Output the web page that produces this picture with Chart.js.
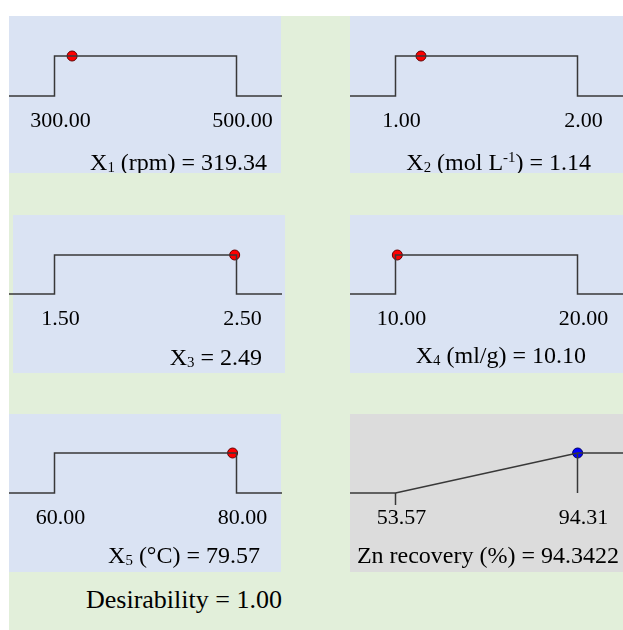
<!DOCTYPE html>
<html>
<head>
<meta charset="utf-8">
<script src="https://cdn.jsdelivr.net/npm/chart.js@4/dist/chart.umd.min.js"></script>
<style>
  html, body { margin: 0; padding: 0; background: #fff; }
  #page { position: relative; width: 623px; height: 630px; overflow: hidden; }
  .bg { position: absolute; }
  canvas { position: absolute; }
  #desir {
    position: absolute; left: 86px; top: 587px; line-height: 26px;
    font-family: "Liberation Serif", serif; font-size: 26px; color: #000; white-space: nowrap;
  }
</style>
</head>
<body>
<div id="page">
  <div class="bg" style="left:9px;top:16px;width:614px;height:614px;background:#e2efda"></div>
  <div class="bg" style="left:9px;top:16px;width:272px;height:157px;background:#dae3f3"></div>
  <div class="bg" style="left:350px;top:16px;width:273px;height:157px;background:#dae3f3"></div>
  <div class="bg" style="left:13px;top:215px;width:272px;height:158px;background:#dae3f3"></div>
  <div class="bg" style="left:350px;top:215px;width:273px;height:158px;background:#dae3f3"></div>
  <div class="bg" style="left:9px;top:414px;width:272px;height:158px;background:#dae3f3"></div>
  <div class="bg" style="left:350px;top:414px;width:273px;height:158px;background:#dcdcdc"></div>
  <div id="desir"></div>
</div>
<script>
"use strict";
// values
const lowLimits = [300, 1, 1.5, 10, 60, 53.57];
const highLimits = [500, 2, 2.5, 20, 80, 94.31];
const optimumValues = [319.34, 1.14, 2.49, 10.10, 79.57, 94.3422];
const valueDecimals = [2, 2, 2, 2, 2, 4];
const tickLabels = [
  ["300.00", "500.00"],
  ["1.00", "2.00"],
  ["1.50", "2.50"],
  ["10.00", "20.00"],
  ["60.00", "80.00"],
  ["53.57", "94.31"],
];
const titleParts = [
  [["X"], ["1", "sub"], [" (rpm) = "]],
  [["X"], ["2", "sub"], [" (mol L"], ["-1", "sup"], [") = "]],
  [["X"], ["3", "sub"], [" = "]],
  [["X"], ["4", "sub"], [" (ml/g) = "]],
  [["X"], ["5", "sub"], [" (°C) = "]],
  [["Zn recovery (%) = "]],
];
const desirability = 1.00;

// layout of the six panels (page pixels)
const panels = [
  { left: 9,   top: 16,  height: 157, padTop: 40, axisH: 77, titleRight: 267, titleY: 162 },
  { left: 350, top: 16,  height: 157, padTop: 40, axisH: 77, titleRight: 591, titleY: 162 },
  { left: 9,   top: 215, height: 158, padTop: 40, axisH: 79, titleRight: 262, titleY: 357 },
  { left: 350, top: 215, height: 158, padTop: 40, axisH: 79, titleRight: 586, titleY: 355 },
  { left: 9,   top: 414, height: 158, padTop: 39, axisH: 79, titleRight: 260, titleY: 555 },
  { left: 350, top: 414, height: 158, padTop: 39, axisH: 79, titleRight: 619, titleY: 555 },
];
const chartWidth = 273;
const serif = '"Liberation Serif", "Times New Roman", serif';
const lineColor = "#383838";

// draws the panel caption with sub/superscripts
const richTitle = {
  id: "richTitle",
  afterDraw(chart, args, opts) {
    const ctx = chart.ctx;
    const size = opts.size;
    const pieces = opts.parts.map(([t, kind]) => ({ t, kind, f: kind ? size * 0.62 : size }));
    ctx.save();
    ctx.textBaseline = "alphabetic";
    ctx.fillStyle = "#000";
    let total = 0;
    pieces.forEach((p) => {
      ctx.font = `${p.f}px ${serif}`;
      p.w = ctx.measureText(p.t).width;
      total += p.w;
    });
    let x = opts.right - total;
    const base = opts.y + size * 0.34;
    pieces.forEach((p) => {
      ctx.font = `${p.f}px ${serif}`;
      const dy = p.kind === "sub" ? size * 0.08 : p.kind === "sup" ? -size * 0.36 : 0;
      ctx.fillText(p.t, x, base + dy);
      x += p.w;
    });
    ctx.restore();
  },
};

const page = document.getElementById("page");

panels.forEach((panel, i) => {
  const low = lowLimits[i];
  const high = highLimits[i];
  const span = high - low;
  const xMin = low - span * 0.25;
  const xMax = high + span * 0.25;
  const isResponse = i === 5;

  const canvas = document.createElement("canvas");
  canvas.width = chartWidth;
  canvas.height = panel.height;
  canvas.style.left = panel.left + "px";
  canvas.style.top = panel.top + "px";
  page.appendChild(canvas);

  const lineStyle = {
    borderColor: lineColor,
    borderWidth: 1.5,
    pointRadius: 0,
    tension: 0,
    fill: false,
    clip: false,
  };

  let datasets;
  if (!isResponse) {
    datasets = [
      {
        ...lineStyle,
        data: [
          { x: xMin, y: 0 }, { x: low, y: 0 }, { x: low, y: 1 },
          { x: high, y: 1 }, { x: high, y: 0 }, { x: xMax, y: 0 },
        ],
      },
    ];
  } else {
    datasets = [
      { ...lineStyle, data: [{ x: xMin, y: 0 }, { x: low, y: 0 }, { x: high, y: 1 }, { x: xMax, y: 1 }] },
      { ...lineStyle, data: [{ x: high, y: 1 }, { x: high, y: 0 }] },
      { ...lineStyle, data: [{ x: low, y: 0 }, { x: low, y: -0.3 }] },
    ];
  }
  datasets.push({
    data: [{ x: optimumValues[i], y: 1 }],
    showLine: false,
    pointRadius: 5,
    pointBorderWidth: 1,
    pointBackgroundColor: isResponse ? "#0000ff" : "#ff0000",
    pointBorderColor: isResponse ? "#000060" : "#600000",
    clip: false,
  });

  new Chart(canvas, {
    type: "line",
    data: { datasets },
    plugins: [richTitle],
    options: {
      responsive: false,
      animation: false,
      events: [],
      layout: { autoPadding: false, padding: { top: panel.padTop, left: 0, right: 0, bottom: 0 } },
      scales: {
        x: {
          type: "linear",
          min: xMin,
          max: xMax,
          grid: { display: false, drawTicks: false },
          border: { display: false },
          afterBuildTicks: (scale) => {
            scale.ticks = [{ value: low }, { value: high }];
          },
          afterFit: (scale) => {
            scale.height = panel.axisH;
          },
          ticks: {
            autoSkip: false,
            maxRotation: 0,
            padding: 12,
            labelOffset: 6,
            color: "#000",
            font: { family: serif, size: 22 },
            callback: (value, index) => tickLabels[i][index],
          },
        },
        y: { display: false, min: 0, max: 1 },
      },
      plugins: {
        legend: { display: false },
        tooltip: { enabled: false },
        richTitle: {
          parts: [...titleParts[i], [optimumValues[i].toFixed(valueDecimals[i])]],
          right: panel.titleRight - panel.left,
          y: panel.titleY - panel.top,
          size: 24,
        },
      },
    },
  });
});

document.getElementById("desir").textContent = "Desirability = " + desirability.toFixed(2);
</script>
</body>
</html>
